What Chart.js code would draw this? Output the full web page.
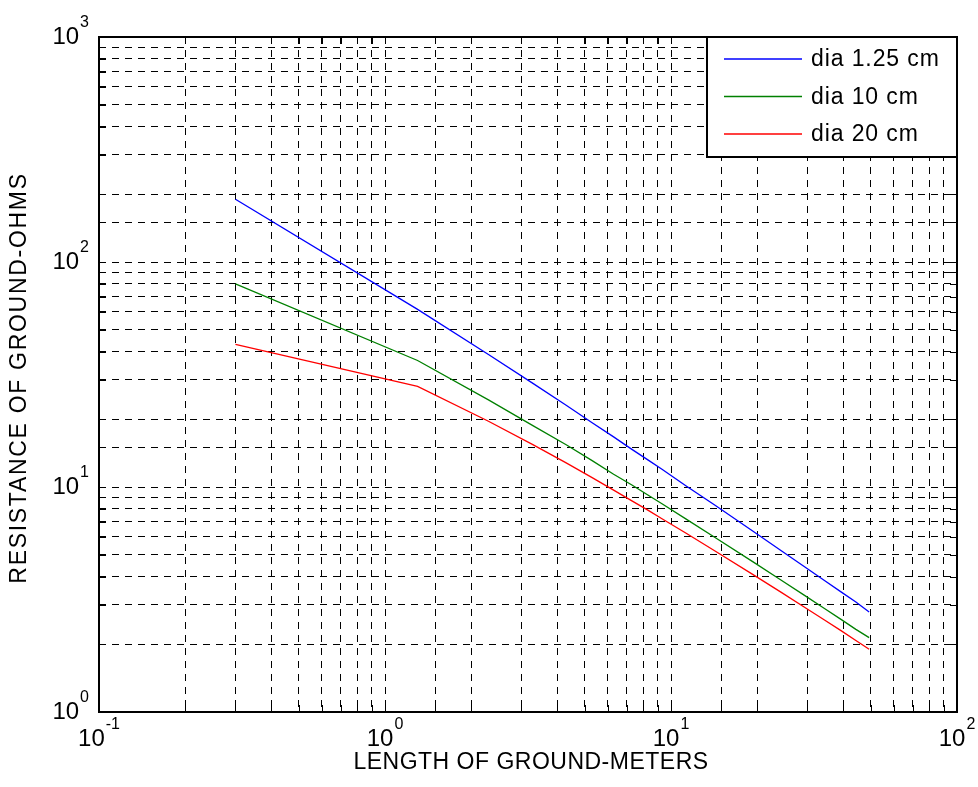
<!DOCTYPE html>
<html>
<head>
<meta charset="utf-8">
<title>Resistance of ground</title>
<script src="https://cdn.jsdelivr.net/npm/chart.js@4.4.1/dist/chart.umd.min.js"></script>
<style>
  body { margin: 0; background: #fff; }
  canvas { display: block; }
</style>
</head>
<body>
<canvas id="myChart" width="978" height="787"></canvas>
<script>
// rod length in metres
const lengths = [0.3, 1.3, 2.3, 3.3, 4.3, 5.3, 6.3, 7.3, 8.3, 9.3, 11.3, 14.3, 19.3, 24.3, 29.3, 34.3, 39.3, 44.3, 49.3];
const dia125 = [190, 61.6, 38.8, 28.8, 23.1, 19.3, 16.7, 14.7, 13.2, 12.0, 10.1, 8.27, 6.37, 5.21, 4.42, 3.85, 3.42, 3.08, 2.78];
const dia10 = [80, 36.5, 24.4, 18.7, 15.4, 13.1, 11.4, 10.2, 9.21, 8.42, 7.2, 5.95, 4.66, 3.85, 3.3, 2.89, 2.58, 2.33, 2.14];
const dia20 = [43, 28, 19.6, 15.4, 12.8, 11.0, 9.69, 8.68, 7.89, 7.23, 6.23, 5.18, 4.09, 3.4, 2.92, 2.57, 2.3, 2.08, 1.9];

const seriesLabels = ["dia 1.25 cm", "dia 10 cm", "dia 20 cm"];
const seriesColors = ["#0000ff", "#008000", "#ff0000"];

const xDecades = [0.1, 1, 10, 100];
const xExponents = ["-1", "0", "1", "2"];
const yDecades = [1, 10, 100, 1000];
const yExponents = ["0", "1", "2", "3"];

const xTitle = "LENGTH OF GROUND-METERS";
const yTitle = "RESISTANCE OF GROUND-OHMS";

const FONT = "'Liberation Sans', Arial, sans-serif";
const ctx = document.getElementById("myChart");

const toPoints = (values) => lengths.map((x, i) => ({ x: x, y: values[i] }));

function powerLabel(c, exp, x, y, align) {
  c.font = `24px ${FONT}`;
  const w1 = c.measureText("10").width;
  c.font = `16px ${FONT}`;
  const w2 = c.measureText(exp).width;
  const total = w1 + 1 + w2;
  const left = align === "right" ? x - total : x - total / 2;
  c.textAlign = "left";
  c.textBaseline = "middle";
  c.font = `24px ${FONT}`;
  c.fillText("10", left, y);
  c.font = `16px ${FONT}`;
  c.fillText(exp, left + w1 + 1, y - 14);
}

const matlabLook = {
  id: "matlabLook",
  afterDatasetsDraw(chart) {
    const c = chart.ctx;
    const area = chart.chartArea;
    const xs = chart.scales.x;
    const ys = chart.scales.y;
    c.save();
    c.strokeStyle = "#000";
    c.lineWidth = 1;
    c.setLineDash([]);
    // inner tick marks
    xs.ticks.forEach((t) => {
      const px = Math.round(xs.getPixelForValue(t.value)) + 0.5;
      c.beginPath();
      c.moveTo(px, area.bottom);
      c.lineTo(px, area.bottom - 7);
      c.moveTo(px, area.top);
      c.lineTo(px, area.top + 7);
      c.stroke();
    });
    ys.ticks.forEach((t) => {
      const py = Math.round(ys.getPixelForValue(t.value)) + 0.5;
      c.beginPath();
      c.moveTo(area.left, py);
      c.lineTo(area.left + 7, py);
      c.moveTo(area.right, py);
      c.lineTo(area.right - 7, py);
      c.stroke();
    });
    // box round the axes
    c.lineWidth = 2;
    c.strokeRect(area.left, area.top, area.right - area.left, area.bottom - area.top);

    // legend in the upper right corner
    const lx = 707, ly = area.top, lw = area.right - 707, lh = 120;
    c.fillStyle = "#fff";
    c.fillRect(lx, ly, lw, lh);
    c.lineWidth = 2;
    c.strokeRect(lx, ly, lw, lh);
    c.letterSpacing = "0.9px";
    c.font = `23px ${FONT}`;
    c.textAlign = "left";
    c.textBaseline = "middle";
    chart.data.datasets.forEach((ds, i) => {
      const rowY = ly + 22 + i * 37.5;
      c.strokeStyle = ds.borderColor;
      c.lineWidth = 1.3;
      c.beginPath();
      c.moveTo(724, rowY);
      c.lineTo(802, rowY);
      c.stroke();
      c.fillStyle = "#000";
      c.fillText(ds.label, 811, rowY + 1);
    });
    c.restore();
  },
  afterDraw(chart) {
    const c = chart.ctx;
    const xs = chart.scales.x;
    const ys = chart.scales.y;
    c.save();
    c.fillStyle = "#000";
    xDecades.forEach((v, i) => {
      powerLabel(c, xExponents[i], xs.getPixelForValue(v), 739, "center");
    });
    yDecades.forEach((v, i) => {
      powerLabel(c, yExponents[i], 89, ys.getPixelForValue(v), "right");
    });
    c.font = `23px ${FONT}`;
    c.textAlign = "center";
    c.textBaseline = "middle";
    c.letterSpacing = "0.5px";
    c.fillText(xTitle, 531, 763);
    c.letterSpacing = "1.7px";
    c.translate(20, 378);
    c.rotate(-Math.PI / 2);
    c.fillText(yTitle, 0, 0);
    c.restore();
  },
};

const data = {
  datasets: [
    { label: seriesLabels[0], data: toPoints(dia125), borderColor: seriesColors[0] },
    { label: seriesLabels[1], data: toPoints(dia10), borderColor: seriesColors[1] },
    { label: seriesLabels[2], data: toPoints(dia20), borderColor: seriesColors[2] },
  ],
};

const gridOpts = { color: "#000", lineWidth: 1, drawTicks: false };
const borderOpts = { display: false, dash: [7, 6] };

const config = {
  type: "line",
  data,
  options: {
    responsive: false,
    animation: false,
    events: [],
    layout: { padding: { top: 37, right: 21, left: 0, bottom: 0 } },
    elements: {
      point: { radius: 0 },
      line: { borderWidth: 1.3, tension: 0, fill: false },
    },
    plugins: {
      legend: { display: false },
      tooltip: { enabled: false },
    },
    scales: {
      x: {
        type: "logarithmic",
        min: 0.1,
        max: 100,
        grid: gridOpts,
        border: borderOpts,
        ticks: { display: false },
        afterFit: (scale) => { scale.height = 75; },
      },
      y: {
        type: "logarithmic",
        min: 1,
        max: 1000,
        grid: gridOpts,
        border: borderOpts,
        ticks: { display: false },
        afterFit: (scale) => { scale.width = 99; },
      },
    },
  },
  plugins: [matlabLook],
};

let myChart = new Chart(ctx, config);
</script>
</body>
</html>
